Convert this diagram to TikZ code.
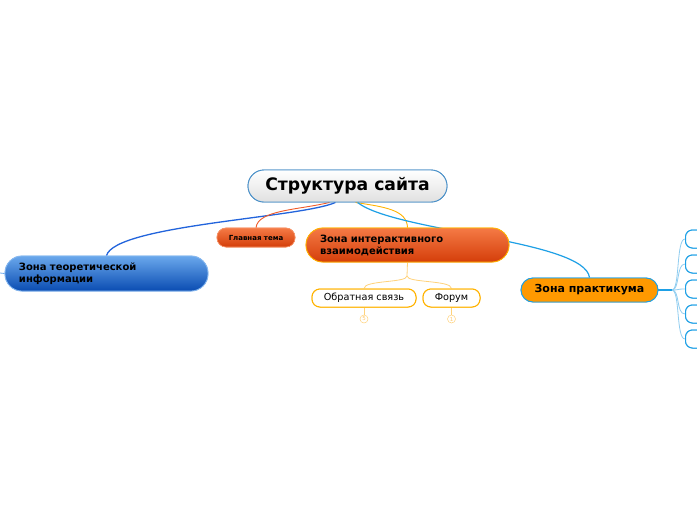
\documentclass[tikz,border=0pt]{standalone}
\usepackage{fontspec}
\setmainfont{DejaVu Sans}
\usetikzlibrary{calc}
\definecolor{bluebd}{HTML}{4A90C8}
\definecolor{theotop}{HTML}{6AA8EC}
\definecolor{theobot}{HTML}{0A4CB2}
\definecolor{redtop}{HTML}{F57A45}
\definecolor{redbot}{HTML}{D43E0A}
\definecolor{yel}{HTML}{FFB300}
\definecolor{pale}{HTML}{FFD27A}
\definecolor{lblue}{HTML}{1EA0E6}
\definecolor{fanblue}{HTML}{90CDF0}
\definecolor{orng}{HTML}{FF9900}
\definecolor{linkblue}{HTML}{2264DC}
\definecolor{linkred}{HTML}{F05A28}
\tikzset{
  pill/.style={draw, rounded corners=#1, inner sep=0pt, align=left},
  central/.style={pill=16pt, draw=bluebd, line width=0.9pt, top color=white, bottom color=black!12, minimum width=199pt, minimum height=32pt, font=\fontsize{17.2}{19}\selectfont\bfseries},
  theo/.style={pill=17pt, draw=theotop!80!white, line width=0.8pt, top color=theotop, bottom color=theobot, minimum width=203pt, minimum height=35pt, text width=175pt, font=\fontsize{10}{12}\selectfont\bfseries},
  inter/.style={pill=17pt, draw=yel, line width=0.8pt, top color=redtop, bottom color=redbot, minimum width=203pt, minimum height=34pt, text width=175pt, font=\fontsize{10}{12}\selectfont\bfseries},
  mainnode/.style={pill=9pt, draw=redtop!80!white, line width=0.6pt, top color=redtop, bottom color=redbot, minimum width=78pt, minimum height=19pt, align=center, font=\fontsize{7}{8}\selectfont\bfseries},
  prak/.style={pill=12pt, draw=lblue, line width=0.9pt, fill=orng, minimum width=137pt, minimum height=24pt, align=center, font=\fontsize{11}{12}\selectfont\bfseries},
  leaf/.style={pill=8pt, draw=yel, line width=1pt, fill=white, minimum height=18pt, align=center, font=\fontsize{9.7}{11}\selectfont},
  rbox/.style={draw=lblue, line width=1pt, fill=white, rounded corners=7pt, minimum width=30pt, minimum height=18pt, inner sep=0pt},
  badge/.style={circle, draw=pale, line width=0.5pt, minimum size=8pt, inner sep=0pt, text=pale!90!orange, font=\fontsize{5.5}{5.5}\selectfont},
}
\begin{document}
\begin{tikzpicture}[x=1pt,y=-1pt]
\useasboundingbox (0,0) rectangle (697,520);
\fill[white] (0,0) rectangle (697,520);

\coordinate (fork) at (672,290);
\coordinate (ifork) at (407,276);
\coordinate (offleft) at (0,273);

% nodes placed first (for names), connectors, then nodes redrawn on top
\node[central] (c) at (347.5,186) {Структура сайта};
\node[theo] (t) at (106.5,273.5) {Зона теоретической\\информации};
\node[mainnode] (g) at (256,237.5) {Главная тема};
\node[inter] (i) at (407.5,245) {Зона интерактивного\\взаимодействия};
\node[prak] (p) at (589.5,290) {Зона практикума};
\node[leaf, minimum width=104pt] (fb) at (364,298) {Обратная связь};
\node[leaf, minimum width=57pt] (fo) at (451.5,298) {Форум};
\node[badge] (b5) at (364,319) {5};
\node[badge] (b1) at (451.5,319) {1};
\foreach \k/\yy in {1/239,2/264,3/289,4/314,5/339}
  \node[rbox, anchor=west] (r\k) at (685,\yy) {};

\draw[linkblue, line width=1.3pt] ([xshift=-12pt]c.south) .. controls (300,218) and (115,225) .. (t.north);
\draw[linkred, line width=0.9pt] ([xshift=-18pt]c.south) .. controls (298,210) and (258,210) .. (g.north);
\draw[yel, line width=0.9pt] ([xshift=8pt]c.south) .. controls (385,207) and (407,210) .. (i.north);
\draw[lblue, line width=1.2pt] ([xshift=10pt]c.south) .. controls (395,232) and (585,240) .. (p.north);
\draw[theotop, line width=0.8pt] (offleft) -- (t.west);

\draw[pale, line width=0.8pt] (i.south) -- (ifork);
\draw[pale, line width=0.8pt] (ifork) .. controls (407,283) and (364,280) .. (fb.north);
\draw[pale, line width=0.8pt] (ifork) .. controls (407,283) and (451.5,280) .. (fo.north);
\draw[pale, line width=0.8pt] (fb.south) -- (b5.north);
\draw[pale, line width=0.8pt] (fo.south) -- (b1.north);

\draw[lblue, line width=1.2pt] (p.east) -- (fork);
\foreach \k in {1,...,5}
  \draw[fanblue, line width=0.8pt] (fork) .. controls (680,290) and (676,0|-r\k.west) .. (r\k.west);

\node[central] at (347.5,186) {Структура сайта};
\node[theo] at (106.5,273.5) {Зона теоретической\\информации};
\node[mainnode] at (256,237.5) {Главная тема};
\node[inter] at (407.5,245) {Зона интерактивного\\взаимодействия};
\node[prak] at (589.5,290) {Зона практикума};
\node[leaf, minimum width=104pt] at (364,298) {Обратная связь};
\node[leaf, minimum width=57pt] at (451.5,298) {Форум};
\foreach \k/\yy in {1/239,2/264,3/289,4/314,5/339}
  \node[rbox, anchor=west] at (685,\yy) {};
\end{tikzpicture}
\end{document}
